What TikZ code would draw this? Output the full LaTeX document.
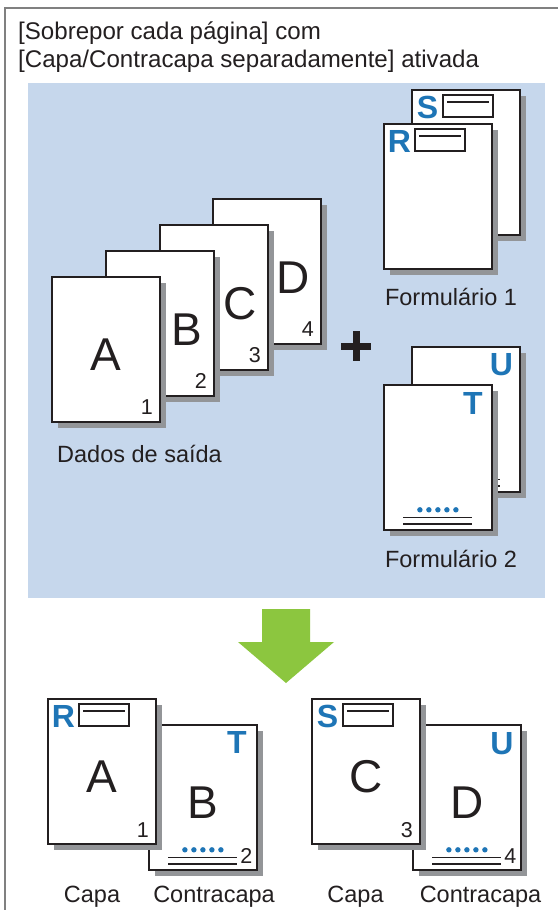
\documentclass[tikz,border=0pt]{standalone}
\usepackage{fontspec}
\setmainfont{Liberation Sans}
\usetikzlibrary{calc,shadows}
\definecolor{ink}{HTML}{231F20}
\definecolor{bluebg}{HTML}{C6D7EC}
\definecolor{blueC}{HTML}{1E75B6}
\definecolor{shadowgray}{HTML}{939598}
\definecolor{framegray}{HTML}{808080}
\definecolor{arrowgreen}{HTML}{8CC63F}
\tikzset{
 sheet/.style={draw=ink, line width=1.8pt, fill=white, minimum width=108pt, minimum height=145pt, inner sep=0pt, anchor=north west, drop shadow={shadow xshift=6pt, shadow yshift=-6pt, fill=shadowgray, opacity=1}},
 bigletter/.style={font=\fontsize{46}{50}\selectfont, text=ink, inner sep=0pt},
 pagenum/.style={font=\fontsize{21.5}{24}\selectfont, text=ink, inner sep=0pt},
 blueletter/.style={font=\fontsize{32}{36}\selectfont\bfseries, text=blueC, inner sep=0pt},
 hbox/.style={draw=ink, line width=1.8pt, fill=white, minimum width=50pt, minimum height=22pt, inner sep=0pt},
 hline/.style={draw=ink, line width=1.4pt},
 captext/.style={font=\fontsize{23.5}{28}\selectfont, text=ink, inner sep=0pt, anchor=base},
 titletext/.style={font=\fontsize{24.1}{28}\selectfont, text=ink, inner sep=0pt, anchor=base west},
 dotmark/.style={fill=blueC},
}
\newcommand\hdr[2]{%
 \node[blueletter] (#1-l) at ($(#1.north west)+(16.5,18.5)$) {#2};
 \node[hbox] (#1-b) at ($(#1.north west)+(57,17)$) {};
 \draw[hline] ($(#1-b.west)+(5,-4)$) -- ($(#1-b.east)+(-5,-4)$);
}
\newcommand\ftr[1]{%
 \foreach \i in {-2,...,2} \fill[dotmark] ($(#1.south)+(\i*9,-21)$) circle (2.7pt);
 \draw[hline] ($(#1.south)+(-34.5,-13.5)$) -- ($(#1.south)+(34.5,-13.5)$);
 \draw[hline] ($(#1.south)+(-34.5,-7)$) -- ($(#1.south)+(34.5,-7)$);
}
\begin{document}
\begin{tikzpicture}[x=1pt,y=-1pt]
\useasboundingbox (0,0) rectangle (558,910);
\fill[white] (0,0) rectangle (558,910);
\draw[framegray, line width=1.2pt] (5,910) -- (5,8) -- (558,8);
\fill[bluebg] (28,83) rectangle (545,598);
\node[titletext] (t1) at (18,39) {[Sobrepor cada página] com};
\node[titletext] (t2) at (18,67) {[Capa/Contracapa separadamente] ativada};
% output data
\node[sheet] (pD) at (212,198) {};
\node[bigletter] (lD) at ($(pD.center)+(26.5,6)$) {D};
\node[pagenum] (nD) at ($(pD.south east)+(-14,-15.5)$) {4};
\node[sheet] (pC) at (159,224) {};
\node[bigletter] (lC) at ($(pC.center)+(26.5,6.5)$) {C};
\node[pagenum] (nC) at ($(pC.south east)+(-14,-15.5)$) {3};
\node[sheet] (pB) at (105,250) {};
\node[bigletter] (lB) at ($(pB.center)+(26.5,6)$) {B};
\node[pagenum] (nB) at ($(pB.south east)+(-14,-15.5)$) {2};
\node[sheet] (pA) at (51,276) {};
\node[bigletter] (lA) at ($(pA.center)+(0,5.5)$) {A};
\node[pagenum] (nA) at ($(pA.south east)+(-14,-15.5)$) {1};
\node[captext] (cap0) at (139.5,462) {Dados de saída};
% plus
\fill[ink] (341,343) rectangle (371,350);
\fill[ink] (353,331) rectangle (360,361);
% form 1
\node[sheet] (fS) at (411,89) {};
\hdr{fS}{S}
\node[sheet] (fR) at (383,123) {};
\hdr{fR}{R}
\node[captext] (cap1) at (451,305) {Formulário 1};
% form 2
\node[sheet] (fU) at (411,346) {};
\node[blueletter] (fU-l) at ($(fU.north east)+(-19.5,18.5)$) {U};
\ftr{fU}
\node[sheet] (fT) at (383,384) {};
\node[blueletter] (fT-l) at ($(fT.north east)+(-20,19)$) {T};
\ftr{fT}
\node[captext] (cap2) at (451,567) {Formulário 2};
% arrow
\fill[arrowgreen] (262,609) -- (310,609) -- (310,642) -- (334,642) -- (286,683) -- (238,642) -- (262,642) -- cycle;
% result group 1
\node[sheet] (oB) at (148,724) {};
\node[blueletter] (oB-l) at ($(oB.north east)+(-21,18.5)$) {T};
\node[bigletter] (oB-m) at ($(oB.center)+(0,5.5)$) {B};
\ftr{oB}
\node[pagenum] (oB-n) at ($(oB.south east)+(-11.5,-15)$) {2};
\node[sheet] (oA) at (47,698) {};
\hdr{oA}{R}
\node[bigletter] (oA-m) at ($(oA.center)+(0,5.5)$) {A};
\node[pagenum] (oA-n) at ($(oA.south east)+(-14,-15)$) {1};
% result group 2
\node[sheet] (oD) at (412,724) {};
\node[blueletter] (oD-l) at ($(oD.north east)+(-20,20)$) {U};
\node[bigletter] (oD-m) at ($(oD.center)+(0,5.5)$) {D};
\ftr{oD}
\node[pagenum] (oD-n) at ($(oD.south east)+(-11.5,-15)$) {4};
\node[sheet] (oC) at (311,698) {};
\hdr{oC}{S}
\node[bigletter] (oC-m) at ($(oC.center)+(0,5.5)$) {C};
\node[pagenum] (oC-n) at ($(oC.south east)+(-14,-15)$) {3};
% captions
\node[captext] (c1) at (92,902) {Capa};
\node[captext] (c2) at (214,902) {Contracapa};
\node[captext] (c3) at (355.5,902) {Capa};
\node[captext] (c4) at (480.5,902) {Contracapa};
\end{tikzpicture}
\end{document}
